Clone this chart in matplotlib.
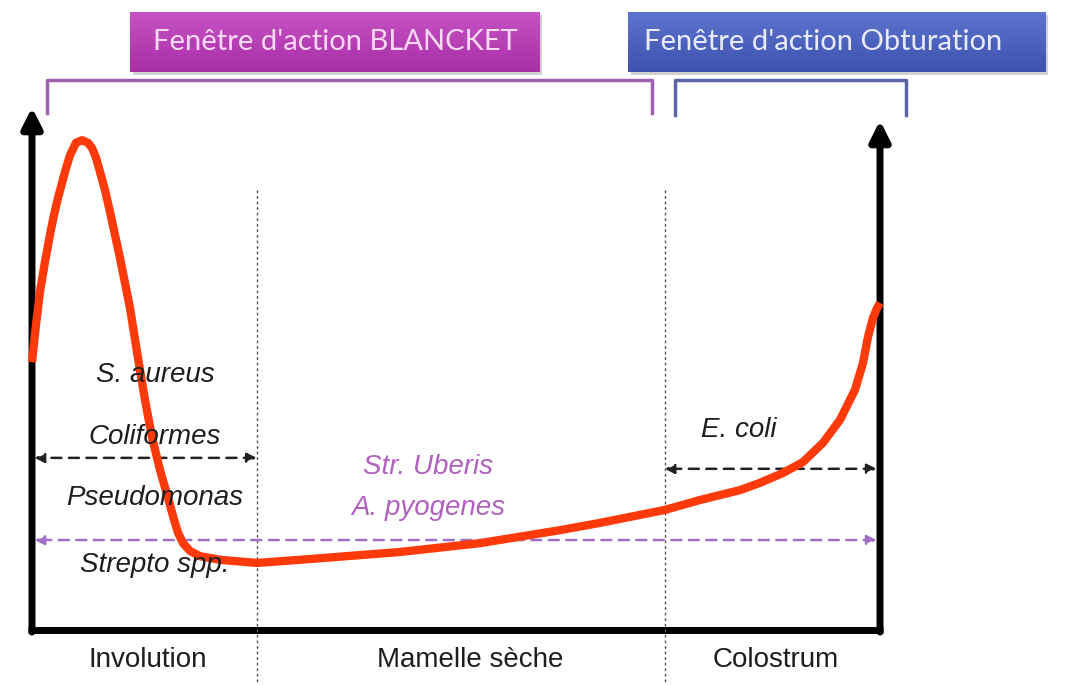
import numpy as np
import matplotlib.pyplot as plt
from matplotlib.colors import LinearSegmentedColormap
from matplotlib.patches import Rectangle

# courbe (x: temps 0-100, y: niveau 0-100)
courbe_x = [0, 0.47, 0.94, 1.53, 2.12, 2.59, 3.07, 3.89, 4.48, 5.19, 5.90, 6.60, 7.08,
            7.55, 8.02, 8.61, 9.20, 10.38, 11.56, 12.50, 13.33, 14.15, 15.09, 16.04,
            16.75, 17.22, 17.81, 18.63, 19.81, 22.17, 26.53, 31.60, 43.40, 52.83,
            62.26, 66.98, 74.65, 78.77, 83.49, 85.85, 88.56, 90.92, 93.28, 95.28,
            97.05, 97.99, 98.58, 99.17, 99.65, 100]
courbe_y = [51.5, 58.7, 65.0, 70.8, 76.0, 79.8, 83.1, 88.1, 91.3, 93.7, 94.2, 93.7, 92.7,
            90.8, 88.1, 84.6, 80.4, 71.5, 61.9, 52.3, 44.2, 37.1, 30.8, 25.4, 21.2,
            18.7, 16.7, 15.2, 14.2, 13.5, 12.9, 13.5, 15.0, 16.7, 19.2, 20.6, 23.1,
            25.0, 26.9, 28.3, 30.2, 32.3, 36.0, 40.4, 46.2, 51.3, 56.3, 60.0, 61.9, 62.9]

phases = ["Involution", "Mamelle sèche", "Colostrum"]
phases_x = [13.7, 51.7, 87.7]
limites = [26.5, 74.6]

germes_involution = ["S. aureus", "Coliformes", "Pseudomonas", "Strepto spp."]
germes_involution_y = [49.0, 37.1, 25.4, 12.5]
germes_secs = ["Str. Uberis", "A. pyogenes"]
germes_secs_y = [31.3, 23.5]

fenetres = ["Fenêtre d'action BLANCKET", "Fenêtre d'action Obturation"]

fig = plt.figure(figsize=(10.7, 6.85), dpi=100)
ax = fig.add_axes([32 / 1070, 55 / 685, 848 / 1070, 520 / 685])
ax.axis('off')

police = ['Liberation Sans', 'DejaVu Sans']

# axes avec fleches
ax.plot([-0.5, 100.3], [0, 0], color='black', lw=5, solid_capstyle='butt', clip_on=False)
ax.annotate('', xy=(0, 100.5), xytext=(0, -0.4),
            arrowprops=dict(arrowstyle='-|>', lw=5, color='black', mutation_scale=30,
                            shrinkA=0, shrinkB=0), annotation_clip=False)
ax.annotate('', xy=(100, 98), xytext=(100, -0.4),
            arrowprops=dict(arrowstyle='-|>', lw=5, color='black', mutation_scale=30,
                            shrinkA=0, shrinkB=0), annotation_clip=False)

# limites des phases
for lx in limites:
    ax.plot([lx, lx], [84.6, -10.6], color='#555555', lw=1, ls=(0, (2, 2)), clip_on=False)

# fleches pointillees
def fleche(x1, x2, y, couleur):
    ax.annotate('', xy=(x1, y), xytext=(x2, y),
                arrowprops=dict(arrowstyle='<|-|>', color=couleur, lw=1.8, ls=(0, (4, 3)),
                                mutation_scale=14, shrinkA=0, shrinkB=0))

fleche(0.3, 99.6, 17.3, '#A070C8')
fleche(0.3, limites[0], 33.1, '#222222')
fleche(limites[1], 99.6, 31.0, '#222222')

# courbe
ax.plot(courbe_x, courbe_y, color='#FF3A0A', lw=6, solid_joinstyle='round',
        solid_capstyle='butt', zorder=5, clip_on=False)

for nom, y in zip(germes_involution, germes_involution_y):
    ax.text(14.5, y, nom, ha='center', va='center', fontsize=20, style='italic',
            family=police, color='#1e1e1e', zorder=6)
for nom, y in zip(germes_secs, germes_secs_y):
    ax.text(46.7, y, nom, ha='center', va='center', fontsize=20, style='italic',
            family=police, color='#B060C0', zorder=6)
ax.text(83.3, 38.5, "E. coli", ha='center', va='center', fontsize=20, style='italic',
        family=police, color='#1e1e1e', zorder=6)

for nom, x in zip(phases, phases_x):
    ax.text(x, -5.8, nom, ha='center', va='center', fontsize=20, family=police,
            color='#1e1e1e')

# fenetres d'action en haut (degrade vertical)
boites = [(11.6, 59.9, '#A82EA6', '#C653C4'), (70.3, 119.5, '#3E52AE', '#5D74CE')]
grad = np.linspace(0, 1, 64).reshape(-1, 1)
for x1, x2, c_bas, c_haut in boites:
    ax.add_patch(Rectangle((x1 + 0.3, 106.8), x2 - x1, 11.5, fc='#999999', ec='none',
                           alpha=0.45, clip_on=False))
    cmap = LinearSegmentedColormap.from_list('g', [c_bas, c_haut])
    ax.imshow(grad, cmap=cmap, origin='lower', aspect='auto',
              extent=(x1, x2, 107.3, 118.8), clip_on=False, zorder=2)
ax.text(35.8, 113.1, fenetres[0], ha='center', va='center', fontsize=21,
        family=['Lato', 'DejaVu Sans'], color='#F8D8F2', zorder=3)
ax.text(72.2, 113.1, fenetres[1], ha='left', va='center', fontsize=21,
        family=['Lato', 'DejaVu Sans'], color='#E8ECFA', zorder=3)

# accolades
accolades = [(1.8, 73.1, 99.4, '#A060B0'), (75.8, 103.1, 99.0, '#5A66A8')]
for x1, x2, yb, c in accolades:
    ax.plot([x1, x1, x2, x2], [yb, 105.8, 105.8, yb], color=c, lw=2.5,
            solid_joinstyle='round', clip_on=False)

ax.set_xlim(0, 100)
ax.set_ylim(0, 100)

fig.savefig('out.png', dpi=100)
